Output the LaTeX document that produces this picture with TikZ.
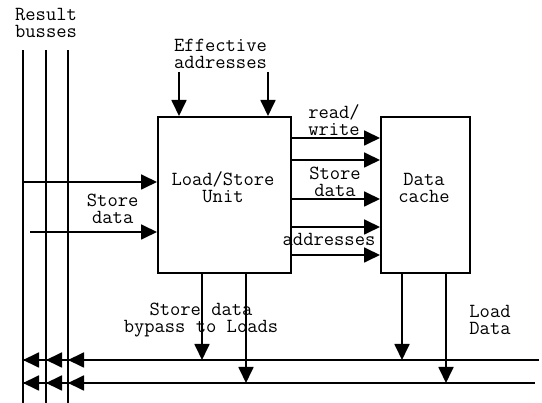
\documentclass[tikz,border=0pt]{standalone}
\usepackage{fontspec}
\usetikzlibrary{arrows.meta,calc}
\begin{document}
\begin{tikzpicture}[x=1pt,y=-1pt,line width=1.8pt,
  lbl/.style={font=\ttfamily\fontsize{20}{17}\selectfont,align=center,inner sep=0pt},
  arr/.style={-{Triangle[length=16pt,width=15pt]}},
  blk/.style={draw,inner sep=0pt,anchor=north west}]
\useasboundingbox (0,0) rectangle (542,403);
% boxes
\node[blk,minimum width=133pt,minimum height=156pt] (lsu) at (157,116) {};
\node[blk,minimum width=89pt,minimum height=156pt] (dc) at (380,116) {};
% texts
\node[lbl] (tres) at (46,22.5) {Result\\busses};
\node[lbl] (tea) at (220.5,54) {Effective\\addresses};
\node[lbl] (tlsu) at (223,187) {Load/Store\\Unit};
\node[lbl] (tdc) at (424,187.5) {Data\\cache};
\node[lbl] (trw) at (334,120.5) {read/\\write};
\node[lbl] (tsd) at (335,181.5) {Store\\data};
\node[lbl] (tad) at (329,239) {addresses};
\node[lbl] (tsdl) at (112.7,209) {Store\\data};
\node[lbl] (tby) at (201,320.5) {Store data\\bypass to Loads};
\node[lbl] (tld) at (490,320) {Load\\Data};
% result busses
\foreach \i/\x in {1/23,2/46,3/68}{
  \coordinate (bt\i) at (\x,50);
  \coordinate (bb\i) at (\x,403);
  \draw (bt\i) -- (bb\i);
}
\coordinate (bs) at (90,0);
% effective address arrows
\coordinate (ea1) at (179,72);
\coordinate (ea2) at (268,72);
\draw[arr] (ea1) -- (ea1 |- lsu.north);
\draw[arr] (ea2) -- (ea2 |- lsu.north);
% LSU -> cache
\foreach \y in {138,160,199,227,255}{
  \coordinate (r\y) at (0,\y);
  \draw[arr] (lsu.east |- r\y) -- (dc.west |- r\y);
}
% store data into LSU
\coordinate (sd1) at (23,182);
\coordinate (sd2) at (30,232);
\draw[arr] (sd1) -- (sd1 -| lsu.west);
\draw[arr] (sd2) -- (sd2 -| lsu.west);
% bottom lines
\coordinate (h1r) at (539,360);
\coordinate (h2r) at (535,383);
\draw (h1r) -- (bt1 |- h1r);
\draw (h2r) -- (bt1 |- h2r);
\foreach \h in {h1r,h2r}{
  \draw[arr] (bs |- \h) -- (bt3 |- \h);
  \draw[arr] (bt3 |- \h) -- (bt2 |- \h);
  \draw[arr] (bt2 |- \h) -- (bt1 |- \h);
}
% down arrows
\coordinate (d1) at (202,0);
\coordinate (d2) at (246,0);
\coordinate (d3) at (402,0);
\coordinate (d4) at (446,0);
\draw[arr] (d1 |- lsu.south) -- (d1 |- h1r);
\draw[arr] (d2 |- lsu.south) -- (d2 |- h2r);
\draw[arr] (d3 |- dc.south) -- (d3 |- h1r);
\draw[arr] (d4 |- dc.south) -- (d4 |- h2r);
\end{tikzpicture}
\end{document}
